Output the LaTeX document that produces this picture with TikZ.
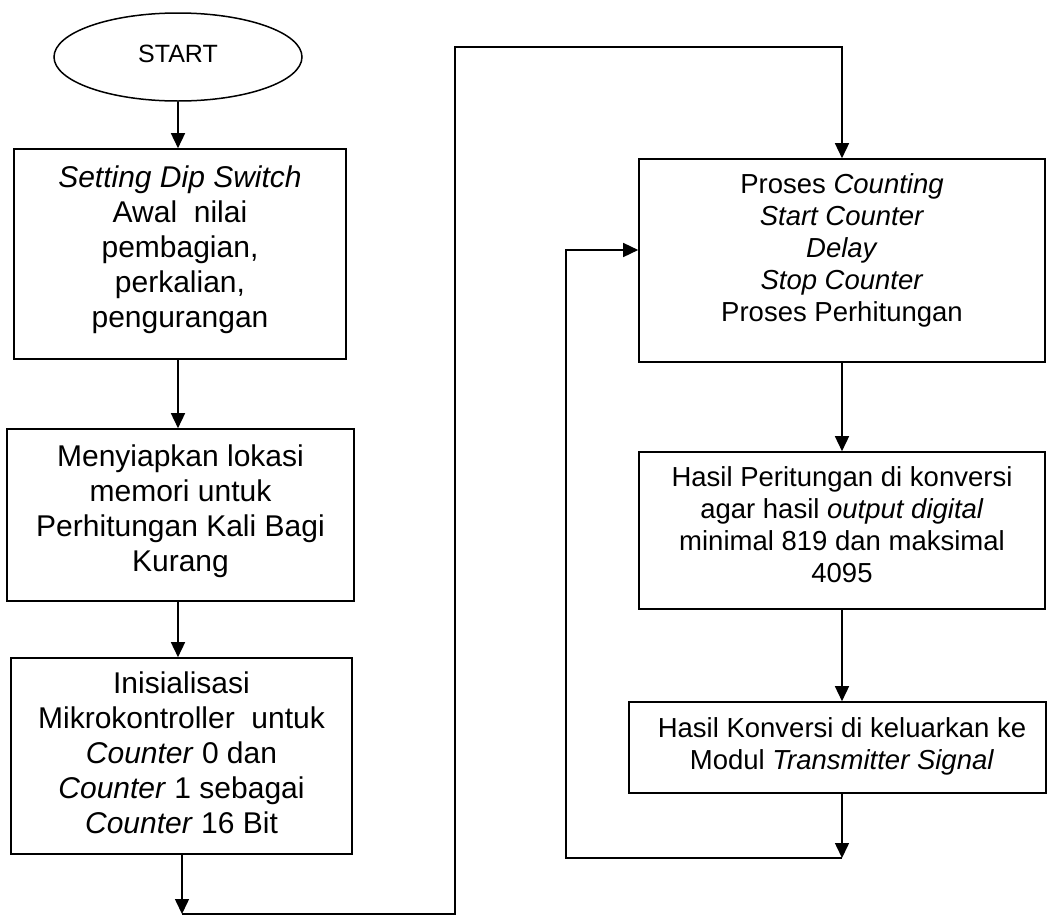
\documentclass[tikz,border=0pt]{standalone}
\usepackage{fontspec}
\setmainfont{Liberation Sans}
\usetikzlibrary{arrows.meta,shapes.geometric}
\begin{document}
\begin{tikzpicture}[x=1pt,y=-1pt,
  box/.style={draw,line width=1.6pt,rectangle,inner sep=0pt},
  txtA/.style={align=center,font=\fontsize{30}{35}\selectfont,inner sep=0pt},
  txtB/.style={align=center,font=\fontsize{27.5}{32}\selectfont,inner sep=0pt},
  conn/.style={line width=1.5pt},
  arr/.style={conn,-{Triangle[length=15pt,width=14pt]}}]
\useasboundingbox (0,0) rectangle (1047,916);

\node[draw,line width=1.5pt,ellipse,inner sep=0pt,minimum width=248pt,minimum height=88pt,
      font=\fontsize{25}{30}\selectfont,text depth=6pt] (start) at (178,57) {START};

\node[box,minimum width=332pt,minimum height=210pt] (b1) at (180,254) {};
\node[txtA] (t1) at (180,249.5) {\textit{Setting Dip Switch}\\Awal~~nilai\\pembagian,\\perkalian,\\pengurangan};

\node[box,minimum width=347pt,minimum height=172pt] (b2) at (180.5,515) {};
\node[txtA] (t2) at (180.5,511.5) {Menyiapkan lokasi\\memori untuk\\Perhitungan Kali Bagi\\Kurang};

\node[box,minimum width=341pt,minimum height=196pt] (b3) at (181.5,756) {};
\node[txtA] (t3) at (181.5,753) {Inisialisasi\\Mikrokontroller~~untuk\\\textit{Counter} 0 dan\\\textit{Counter} 1 sebagai\\\textit{Counter} 16 Bit};

\node[box,minimum width=406pt,minimum height=203pt] (b4) at (842,260.5) {};
\node[txtB] (t4) at (842,250) {Proses \textit{Counting}\\\textit{Start Counter}\\\textit{Delay}\\\textit{Stop Counter}\\Proses Perhitungan};

\node[box,minimum width=406pt,minimum height=157pt] (b5) at (842,530.5) {};
\node[txtB] (t5) at (842,524.5) {Hasil Peritungan di konversi\\agar hasil \textit{output digital}\\minimal 819 dan maksimal\\4095};

\node[box,minimum width=417pt,minimum height=91pt] (b6) at (837.5,747.5) {};
\node[txtB] (t6) at (842,746) {Hasil Konversi di keluarkan ke\\Modul \textit{Transmitter Signal}};

\coordinate (c1) at (182,914);
\coordinate (c2) at (455,914);
\coordinate (c3) at (455,47);
\coordinate (c4) at (842,47);
\coordinate (d1) at (842,858);
\coordinate (d2) at (566,858);
\coordinate (d3) at (566,250);

\draw[arr] (start.south) -- (start.south |- b1.north);
\draw[arr] (start.south |- b1.south) -- (start.south |- b2.north);
\draw[arr] (start.south |- b2.south) -- (start.south |- b3.north);
\draw[arr] (b3.south -| c1) -- (c1);
\draw[arr] (c1) -- (c2) -- (c3) -- (c4) -- (c4 |- b4.north);
\draw[arr] (b4.south -| c4) -- (c4 |- b5.north);
\draw[arr] (b5.south -| c4) -- (c4 |- b6.north);
\draw[arr] (b6.south -| d1) -- (d1);
\draw[arr] (d1) -- (d2) -- (d3) -- (d3 -| b4.west);
\end{tikzpicture}
\end{document}
